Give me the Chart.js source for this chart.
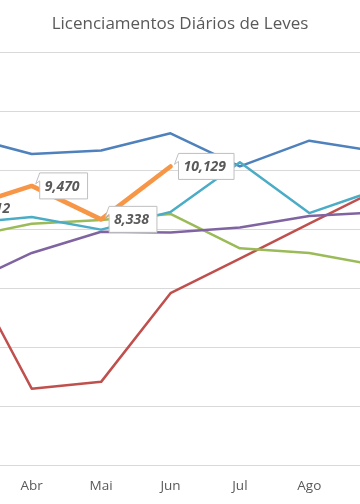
<!DOCTYPE html>
<html>
<head>
<meta charset="utf-8">
<script src="https://cdn.jsdelivr.net/npm/chart.js@4/dist/chart.umd.min.js"></script>
<style>
  html, body { margin: 0; padding: 0; background: #fff; }
  #wrap { width: 360px; height: 504px; position: relative; }
</style>
</head>
<body>
<div id="wrap"><canvas id="chart"></canvas></div>
<script>
// --- Data ---
const months = ['Jan', 'Fev', 'Mar', 'Abr', 'Mai', 'Jun', 'Jul', 'Ago', 'Set', 'Out', 'Nov', 'Dez'];
const firstMonth = 2; // series start at Mar

const serieAzul    = [11170, 10550, 10670, 11250, 10130, 11000, 10630];
const serieVermelha = [7040, 2610, 2840, 5840, 7010, 8190, 9360];
const serieVerde   = [7700, 8190, 8320, 8520, 7360, 7200, 6770];
const serieRoxa    = [6090, 7200, 7920, 7890, 8060, 8450, 8580];
const serieCiano   = [8200, 8420, 7990, 8590, 10270, 8550, 9360];
const serieLaranja = [8712, 9470, 8338, 10129];

const yTicks = [0, 2000, 4000, 6000, 8000, 10000, 12000, 14000];
const visibleTicks = [3, 4, 5, 6, 7]; // Abr..Ago

function toPoints(values) {
    return values.map((v, i) => ({ x: firstMonth + i, y: v }));
}

// --- Callout labels for the orange series ---
const calloutLabels = {
    id: 'calloutLabels',
    afterDatasetsDraw(chart, args, opts) {
        const ctx = chart.ctx;
        const meta = chart.getDatasetMeta(0);
        ctx.save();
        ctx.font = 'italic bold 14px "Open Sans"';
        ctx.textBaseline = 'middle';
        meta.data.forEach((pt, i) => {
            const text = serieLaranja[i].toLocaleString('en-US');
            const w = ctx.measureText(text).width;
            const bx = pt.x + 8;
            const by = pt.y - 13;
            const bw = w + 13;
            const bh = 26;
            if (opts.boxed[i]) {
                ctx.beginPath();
                ctx.moveTo(bx, by);
                ctx.lineTo(bx + bw, by);
                ctx.lineTo(bx + bw, by + bh);
                ctx.lineTo(bx, by + bh);
                ctx.lineTo(bx, by + 8);
                ctx.lineTo(pt.x + 4, pt.y - 2);
                ctx.closePath();
                ctx.fillStyle = '#ffffff';
                ctx.fill();
                ctx.strokeStyle = '#bfbfbf';
                ctx.lineWidth = 1;
                ctx.stroke();
            }
            ctx.fillStyle = '#595959';
            ctx.fillText(text, bx + 5, pt.y + 1);
        });
        ctx.restore();
    }
};

function lineSet(label, values, color, width) {
    return {
        label,
        data: toPoints(values),
        borderColor: color,
        backgroundColor: color,
        borderWidth: width,
        pointRadius: 0,
        pointHoverRadius: 0,
        borderJoinStyle: 'round',
        borderCapStyle: 'round',
        tension: 0
    };
}

const ctx = document.getElementById('chart').getContext('2d');
new Chart(ctx, {
    type: 'line',
    data: {
        datasets: [
            lineSet('Série 6', serieLaranja, '#F79646', 4.5),
            lineSet('Série 5', serieCiano, '#4BACC6', 2.5),
            lineSet('Série 4', serieRoxa, '#8064A2', 2.5),
            lineSet('Série 3', serieVerde, '#9BBB59', 2.5),
            lineSet('Série 2', serieVermelha, '#C0504D', 2.5),
            lineSet('Série 1', serieAzul, '#4F81BD', 2.5)
        ]
    },
    options: {
        responsive: true,
        maintainAspectRatio: false,
        animation: false,
        layout: { padding: { left: 0, right: 0, top: 0, bottom: -3 } },
        plugins: {
            legend: { display: false },
            tooltip: { enabled: false },
            title: {
                display: true,
                text: 'Licenciamentos Diários de Leves',
                color: '#595959',
                font: { family: '"Open Sans"', size: 17, weight: 'normal', lineHeight: 1.2 },
                padding: { top: 14, bottom: 17.6 }
            },
            calloutLabels: { boxed: [false, true, true, true] }
        },
        scales: {
            x: {
                type: 'linear',
                min: 2.543,
                max: 7.731,
                afterBuildTicks: (scale) => {
                    scale.ticks = visibleTicks.map(v => ({ value: v }));
                },
                ticks: {
                    color: '#595959',
                    font: { family: '"Open Sans"', size: 13.5 },
                    padding: 12.5,
                    maxRotation: 0,
                    autoSkip: false,
                    callback: (v) => months[v]
                },
                grid: { display: false, drawTicks: false },
                border: { display: false }
            },
            y: {
                min: 0,
                max: 14000,
                afterBuildTicks: (scale) => {
                    scale.ticks = yTicks.map(v => ({ value: v }));
                },
                ticks: { display: false },
                grid: { color: '#d9d9d9', lineWidth: 1, drawTicks: false },
                border: { display: false }
            }
        }
    },
    plugins: [calloutLabels]
});
</script>
</body>
</html>
